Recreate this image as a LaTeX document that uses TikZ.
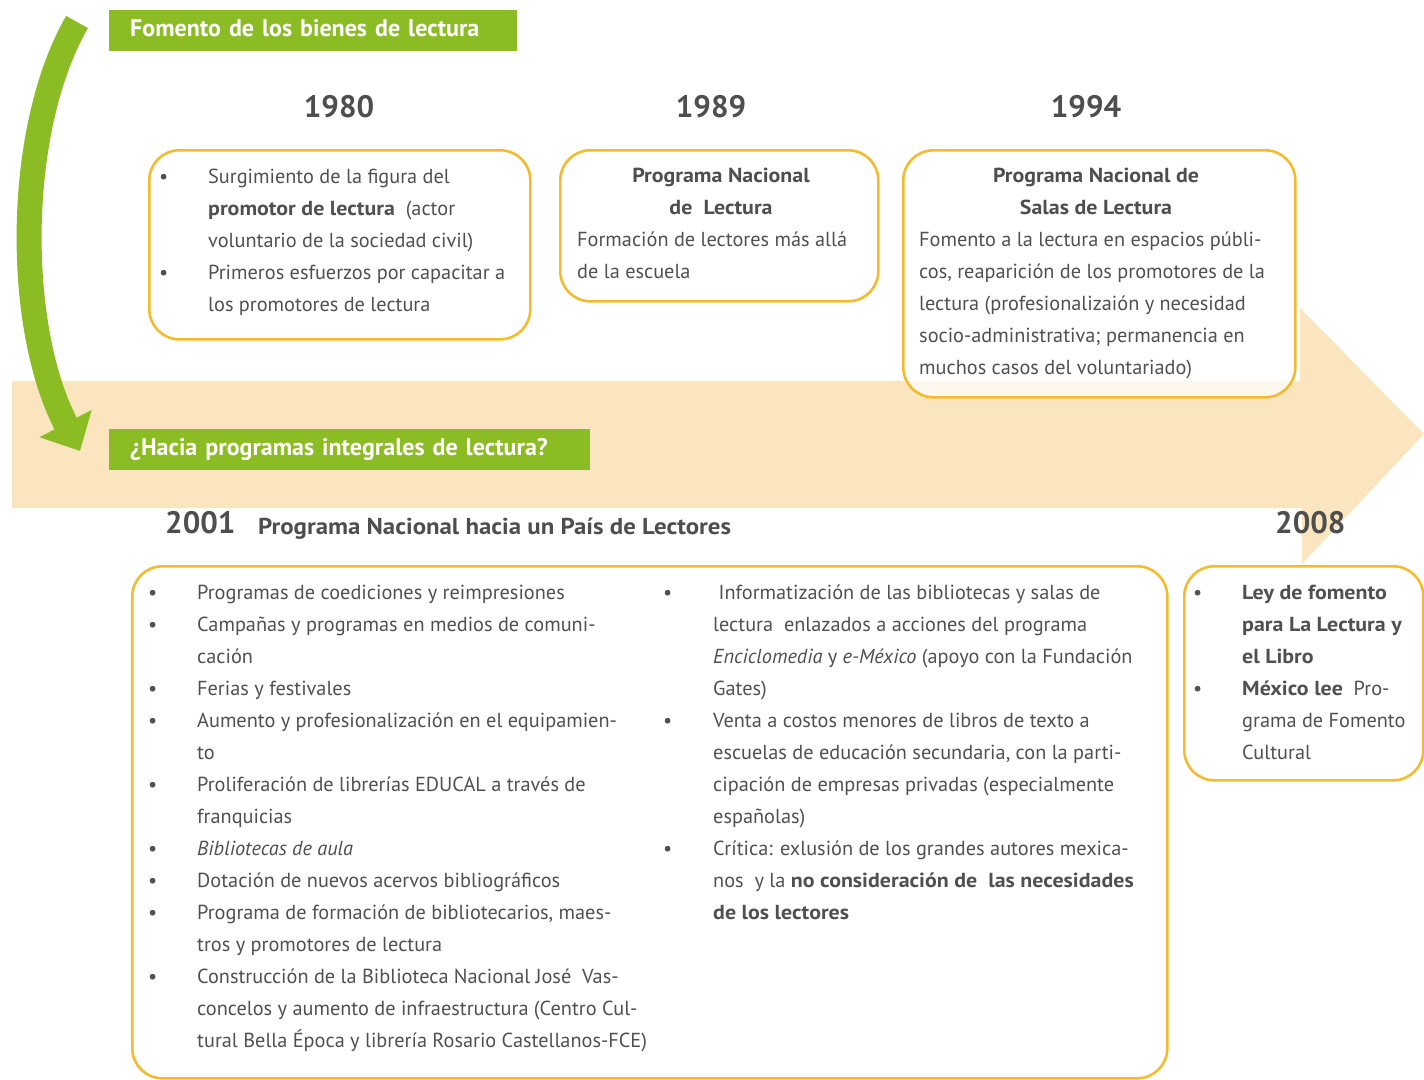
\documentclass[tikz,border=0pt]{standalone}
\usepackage{fontspec}
\setmainfont{PT Sans}[BoldFeatures={FakeStretch=1.08}]
\newfontfamily\plainsans{PT Sans}
\usetikzlibrary{arrows.meta}

\definecolor{leafgreen}{RGB}{139,188,36}
\definecolor{boxorange}{RGB}{242,187,48}
\definecolor{bandbeige}{RGB}{250,229,191}
\definecolor{inkgray}{RGB}{80,80,80}
\definecolor{yeargray}{RGB}{78,78,78}
\newcommand{\bul}{\textbullet}

\begin{document}
\begin{tikzpicture}[x=1pt,y=-1pt,
  tagbar/.style={fill=leafgreen,text=white,font=\plainsans\fontsize{24}{24}\selectfont\bfseries,
    anchor=north west,align=left,inner xsep=21pt,inner ysep=0pt,
    minimum height=41pt,text height=17pt,text depth=5pt},
  yearlabel/.style={text=yeargray,font=\plainsans\fontsize{31}{31}\selectfont\bfseries,inner sep=0pt},
  eventbox/.style={draw=boxorange,line width=2.6pt,rounded corners=30pt,
    fill=white,fill opacity=0.75,anchor=north west,inner sep=0pt},
  bodytext/.style={text=inkgray,font=\fontsize{20.3}{32}\selectfont,inner sep=0pt,anchor=base west},
  boxhead/.style={text=yeargray,font=\fontsize{20.3}{32}\selectfont\bfseries,inner sep=0pt,anchor=base},
]
\useasboundingbox (0,0) rectangle (1424,1079);

% background time band
\fill[bandbeige] (12,381) -- (1300,381) -- (1300,308) -- (1424,434)
  -- (1302,564) -- (1302,508) -- (12,508) -- cycle;

% green bent arrow
\draw[leafgreen,line width=25pt,-{Triangle[width=57pt,length=31pt]}]
  (77,22) .. controls (15,130) and (15,327) .. (80,451);

% section tags
\node[tagbar,text width=366pt] (tagtop) at (109,10) {Fomento de los bienes de lectura};
\node[tagbar,text width=439pt] (tagbottom) at (109,429) {¿Hacia programas integrales de lectura?};

% years
\node[yearlabel,anchor=base] (y1980) at (339,117) {1980};
\node[yearlabel,anchor=base] (y1989) at (711,117) {1989};
\node[yearlabel,anchor=base] (y1994) at (1086,117) {1994};
\node[yearlabel,anchor=base west] (y2001) at (165,533) {2001};
\node[yearlabel,anchor=base west] (y2008) at (1275,533) {2008};
\node[bodytext,text=yeargray,font=\fontsize{23}{23}\selectfont\bfseries] (pnl) at (258,534)
  {Programa Nacional hacia un País de Lectores};

% frames
\node[eventbox,minimum width=381pt,minimum height=189pt] (box1980) at (148,149) {};
\node[eventbox,minimum width=318pt,minimum height=151pt] (box1989) at (559,149) {};
\node[eventbox,minimum width=392pt,minimum height=247pt] (box1994) at (902,149) {};
\node[eventbox,minimum width=1035pt,minimum height=512pt] (box2001) at (131,565) {};
\node[eventbox,minimum width=239pt,minimum height=214pt] (box2008) at (1183,565) {};

% 1980
\node[bodytext] (t1980) at (159,183) {\begin{tabular}[t]{@{}p{49pt}@{}l@{}}
\bul & Surgimiento de la figura del\\
 & \textbf{promotor de lectura}\ \ (actor\\
 & voluntario de la sociedad civil)\\
\bul & Primeros esfuerzos por capacitar a\\
 & los promotores de lectura
\end{tabular}};

% 1989
\node[boxhead] (h1989) at (721,182) {\begin{tabular}[t]{@{}c@{}}
Programa Nacional\\
de\ \ Lectura
\end{tabular}};
\node[bodytext] (t1989) at (577,246) {\begin{tabular}[t]{@{}l@{}}
Formación de lectores más allá\\
de la escuela
\end{tabular}};

% 1994
\node[boxhead] (h1994) at (1096,182) {\begin{tabular}[t]{@{}c@{}}
Programa Nacional de\\
Salas de Lectura
\end{tabular}};
\node[bodytext] (t1994) at (919,246) {\begin{tabular}[t]{@{}l@{}}
Fomento a la lectura en espacios públi-\\
cos, reaparición de los promotores de la\\
lectura (profesionalizaión y necesidad\\
socio-administrativa; permanencia en\\
muchos casos del voluntariado)
\end{tabular}};

% 2001, left column
\node[bodytext] (t2001a) at (148,599) {\begin{tabular}[t]{@{}p{49pt}@{}l@{}}
\bul & Programas de coediciones y reimpresiones\\
\bul & Campañas y programas en medios de comuni-\\
 & cación\\
\bul & Ferias y festivales\\
\bul & Aumento y profesionalización en el equipamien-\\
 & to\\
\bul & Proliferación de librerías EDUCAL a través de\\
 & franquicias\\
\bul & \textit{Bibliotecas de aula}\\
\bul & Dotación de nuevos acervos bibliográficos\\
\bul & Programa de formación de bibliotecarios, maes-\\
 & tros y promotores de lectura\\
\bul & Construcción de la Biblioteca Nacional José\ \ Vas-\\
 & concelos y aumento de infraestructura (Centro Cul-\\
 & tural Bella Época y librería Rosario Castellanos-FCE)
\end{tabular}};

% 2001, right column
\node[bodytext] (t2001b) at (663,599) {\begin{tabular}[t]{@{}p{50pt}@{}l@{}}
\bul & \ Informatización de las bibliotecas y salas de\\
 & lectura\ \ enlazados a acciones del programa\\
 & \textit{Enciclomedia} y \textit{e-México} (apoyo con la Fundación\\
 & Gates)\\
\bul & Venta a costos menores de libros de texto a\\
 & escuelas de educación secundaria, con la parti-\\
 & cipación de empresas privadas (especialmente\\
 & españolas)\\
\bul & Crítica: exlusión de los grandes autores mexica-\\
 & nos\ \ y la \textbf{no consideración de\ \ las necesidades}\\
 & \textbf{de los lectores}
\end{tabular}};

% 2008
\node[bodytext] (t2008) at (1193,599) {\begin{tabular}[t]{@{}p{49pt}@{}l@{}}
\bul & \textbf{Ley de fomento}\\
 & \textbf{para La Lectura y}\\
 & \textbf{el Libro}\\
\bul & \textbf{México lee}\ \ Pro-\\
 & grama de Fomento\\
 & Cultural
\end{tabular}};
\end{tikzpicture}
\end{document}
